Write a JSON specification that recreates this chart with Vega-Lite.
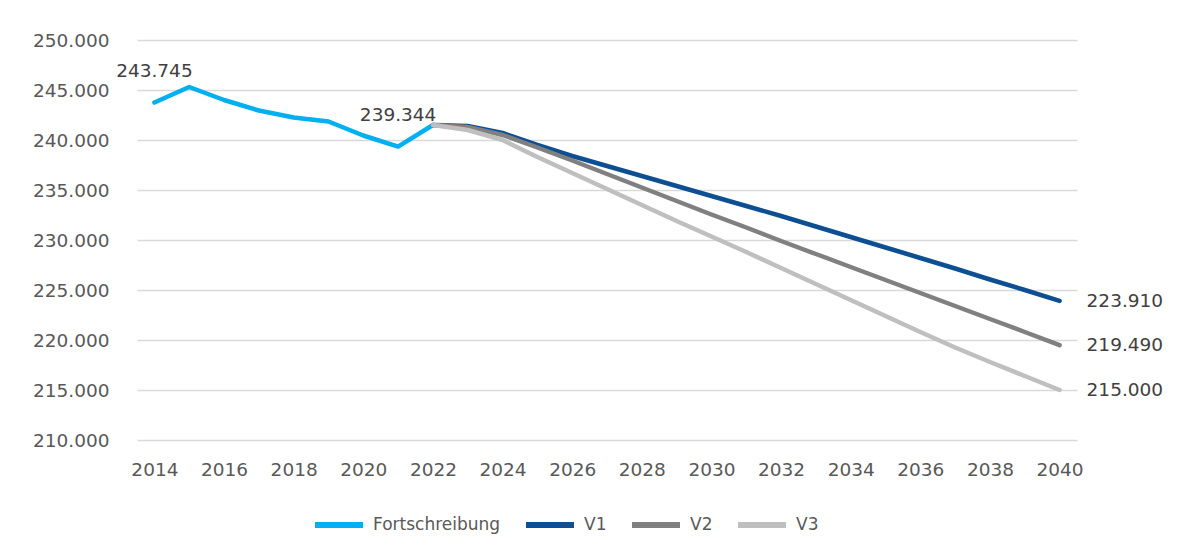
{
  "$schema": "https://vega.github.io/schema/vega-lite/v6.json",
  "width": 940,
  "height": 400,
  "autosize": {"type": "none"},
  "padding": {"left": 137, "top": 40, "right": 117, "bottom": 116},
  "background": "white",
  "config": {
    "locale": {"number": {"decimal": ",", "thousands": ".", "grouping": [3], "currency": ["", " €"]}},
    "view": {"stroke": null},
    "font": "DejaVu Sans"
  },
  "datasets": {
    "pop": [
      {"series": "Fortschreibung", "year": 2014, "value": 243745},
      {"series": "Fortschreibung", "year": 2015, "value": 245300},
      {"series": "Fortschreibung", "year": 2016, "value": 244000},
      {"series": "Fortschreibung", "year": 2017, "value": 242950},
      {"series": "Fortschreibung", "year": 2018, "value": 242250},
      {"series": "Fortschreibung", "year": 2019, "value": 241850},
      {"series": "Fortschreibung", "year": 2020, "value": 240450},
      {"series": "Fortschreibung", "year": 2021, "value": 239344},
      {"series": "Fortschreibung", "year": 2022, "value": 241500},
      {"series": "V1", "year": 2022, "value": 241500},
      {"series": "V1", "year": 2023, "value": 241400},
      {"series": "V1", "year": 2024, "value": 240700},
      {"series": "V1", "year": 2025, "value": 239500},
      {"series": "V1", "year": 2026, "value": 238400},
      {"series": "V1", "year": 2027, "value": 237400},
      {"series": "V1", "year": 2028, "value": 236400},
      {"series": "V1", "year": 2029, "value": 235400},
      {"series": "V1", "year": 2030, "value": 234400},
      {"series": "V1", "year": 2031, "value": 233400},
      {"series": "V1", "year": 2032, "value": 232400},
      {"series": "V1", "year": 2033, "value": 231350},
      {"series": "V1", "year": 2034, "value": 230300},
      {"series": "V1", "year": 2035, "value": 229250},
      {"series": "V1", "year": 2036, "value": 228200},
      {"series": "V1", "year": 2037, "value": 227150},
      {"series": "V1", "year": 2038, "value": 226050},
      {"series": "V1", "year": 2039, "value": 225000},
      {"series": "V1", "year": 2040, "value": 223910},
      {"series": "V2", "year": 2022, "value": 241500},
      {"series": "V2", "year": 2023, "value": 241300},
      {"series": "V2", "year": 2024, "value": 240500},
      {"series": "V2", "year": 2025, "value": 239250},
      {"series": "V2", "year": 2026, "value": 237950},
      {"series": "V2", "year": 2027, "value": 236600},
      {"series": "V2", "year": 2028, "value": 235250},
      {"series": "V2", "year": 2029, "value": 233900},
      {"series": "V2", "year": 2030, "value": 232550},
      {"series": "V2", "year": 2031, "value": 231250},
      {"series": "V2", "year": 2032, "value": 229900},
      {"series": "V2", "year": 2033, "value": 228600},
      {"series": "V2", "year": 2034, "value": 227300},
      {"series": "V2", "year": 2035, "value": 226000},
      {"series": "V2", "year": 2036, "value": 224700},
      {"series": "V2", "year": 2037, "value": 223400},
      {"series": "V2", "year": 2038, "value": 222100},
      {"series": "V2", "year": 2039, "value": 220800},
      {"series": "V2", "year": 2040, "value": 219490},
      {"series": "V3", "year": 2022, "value": 241500},
      {"series": "V3", "year": 2023, "value": 241000},
      {"series": "V3", "year": 2024, "value": 240000},
      {"series": "V3", "year": 2025, "value": 238300},
      {"series": "V3", "year": 2026, "value": 236700},
      {"series": "V3", "year": 2027, "value": 235100},
      {"series": "V3", "year": 2028, "value": 233500},
      {"series": "V3", "year": 2029, "value": 231900},
      {"series": "V3", "year": 2030, "value": 230350},
      {"series": "V3", "year": 2031, "value": 228800},
      {"series": "V3", "year": 2032, "value": 227200},
      {"series": "V3", "year": 2033, "value": 225600},
      {"series": "V3", "year": 2034, "value": 224000},
      {"series": "V3", "year": 2035, "value": 222400},
      {"series": "V3", "year": 2036, "value": 220800},
      {"series": "V3", "year": 2037, "value": 219250},
      {"series": "V3", "year": 2038, "value": 217800},
      {"series": "V3", "year": 2039, "value": 216400},
      {"series": "V3", "year": 2040, "value": 215000}
    ]
  },
  "data": {"name": "pop"},
  "layer": [
    {
      "mark": {"type": "line", "strokeWidth": 4.5, "strokeCap": "round", "strokeJoin": "round"},
      "encoding": {
        "x": {
          "field": "year", "type": "quantitative",
          "scale": {"domain": [2013.5, 2040.5], "nice": false, "zero": false},
          "axis": {
            "title": null, "values": [2014, 2016, 2018, 2020, 2022, 2024, 2026, 2028, 2030, 2032, 2034, 2036, 2038, 2040],
            "format": "d", "grid": false, "domain": false, "ticks": false,
            "labelFontSize": 18.5, "labelColor": "#595959", "labelPadding": 20, "labelFont": "DejaVu Sans"
          }
        },
        "y": {
          "field": "value", "type": "quantitative",
          "scale": {"domain": [210000, 250000], "nice": false, "zero": false},
          "axis": {
            "title": null, "values": [210000, 215000, 220000, 225000, 230000, 235000, 240000, 245000, 250000],
            "format": ",d", "grid": true, "gridColor": "#d9d9d9", "gridWidth": 1.5,
            "domain": false, "ticks": false,
            "labelFontSize": 18.5, "labelColor": "#595959", "labelPadding": 28, "labelFont": "DejaVu Sans"
          }
        },
        "color": {
          "field": "series", "type": "nominal",
          "scale": {"domain": ["Fortschreibung", "V1", "V2", "V3"], "range": ["#00B0F0", "#0E4F94", "#808080", "#BFBFBF"]},
          "legend": {
            "title": null, "orient": "none", "legendX": 175, "legendY": 458, "direction": "horizontal",
            "symbolType": "stroke", "symbolStrokeWidth": 6, "symbolSize": 2304,
            "labelFontSize": 17, "labelColor": "#595959", "labelOffset": 7, "columnPadding": 13, "labelFont": "DejaVu Sans"
          }
        }
      }
    },
    {
      "transform": [{"filter": "datum.series == 'Fortschreibung' && (datum.year == 2014 || datum.year == 2021)"}],
      "mark": {"type": "text", "dy": -32, "fontSize": 18.5, "color": "#404040", "baseline": "middle", "font": "DejaVu Sans"},
      "encoding": {
        "x": {"field": "year", "type": "quantitative"},
        "y": {"field": "value", "type": "quantitative"},
        "text": {"field": "value", "type": "quantitative", "format": ",d"}
      }
    },
    {
      "transform": [{"filter": "datum.year == 2040"}],
      "mark": {"type": "text", "dx": 27, "align": "left", "fontSize": 18.5, "color": "#404040", "baseline": "middle", "font": "DejaVu Sans"},
      "encoding": {
        "x": {"field": "year", "type": "quantitative"},
        "y": {"field": "value", "type": "quantitative"},
        "text": {"field": "value", "type": "quantitative", "format": ",d"}
      }
    }
  ]
}
